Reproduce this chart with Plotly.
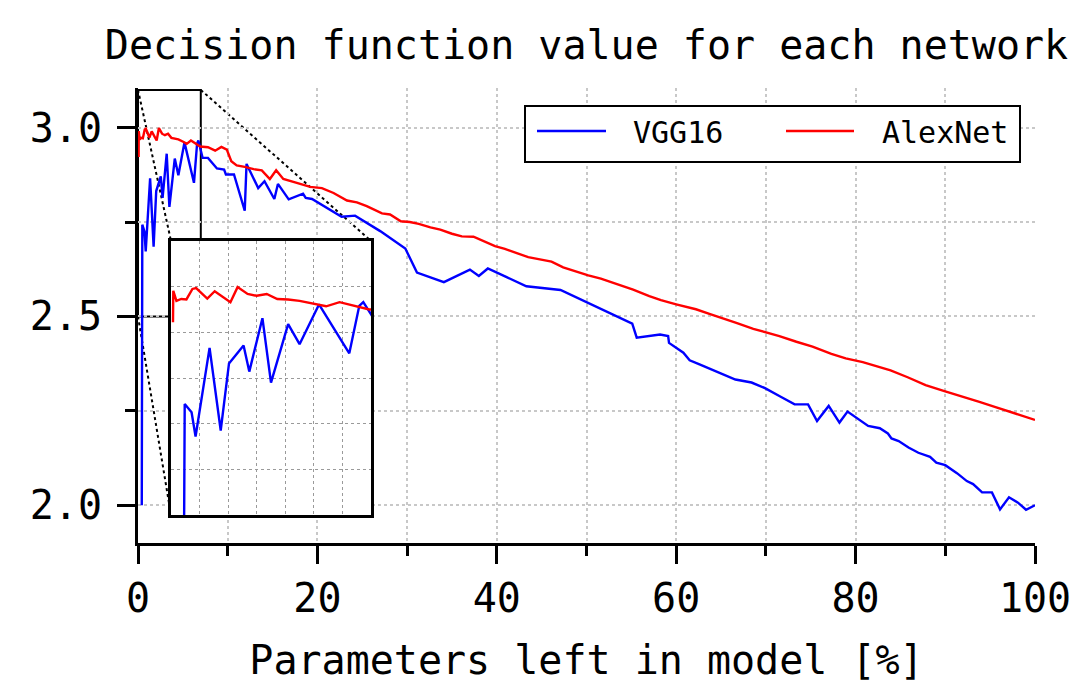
import plotly.graph_objects as go

# ---------------- data ----------------
vgg_x = [0.42, 0.48, 0.72, 0.86, 1.35, 1.74, 2.03, 2.54, 2.74, 3.2, 3.5, 4.1, 4.5, 5.18, 6.24, 6.59, 6.73,
         7.2, 7.8, 8.8, 9.6, 9.8, 10.7, 11.9, 12.1, 13.4, 14.1, 15.2, 15.6, 16.8, 18.4, 18.7, 19.4,
         22.7, 24.2, 27.0, 29.8, 31.1, 34.1, 37.0, 38.0, 39.0, 41.1, 43.3, 47.1, 55.1, 55.6, 58.2,
         59.1, 59.2, 60.8, 61.5, 62.6, 64.5, 66.6, 68.4, 69.9, 71.6, 73.2, 74.7, 75.7, 77.0, 78.2,
         79.1, 80.1, 81.4, 82.7, 83.6, 84.0, 84.8, 85.9, 87.0, 88.3, 89.0, 90.0, 91.3, 92.4, 93.1,
         94.1, 95.2, 96.1, 97.1, 98.1, 99.0, 100.0]
vgg_y = [2.0, 2.743, 2.725, 2.672, 2.866, 2.685, 2.832, 2.871, 2.814, 2.931, 2.790, 2.918, 2.874, 2.961,
         2.854, 2.958, 2.966, 2.92, 2.92, 2.892, 2.889, 2.876, 2.876, 2.78, 2.904, 2.840, 2.858, 2.811,
         2.851, 2.81, 2.825, 2.814, 2.811, 2.764, 2.767, 2.726, 2.68, 2.616, 2.591, 2.624, 2.607, 2.627,
         2.604, 2.580, 2.570, 2.481, 2.444, 2.452, 2.448, 2.430, 2.404, 2.384, 2.373, 2.354, 2.333,
         2.325, 2.31, 2.288, 2.267, 2.267, 2.223, 2.263, 2.219, 2.248, 2.232, 2.21, 2.204, 2.19, 2.177,
         2.17, 2.153, 2.139, 2.128, 2.113, 2.106, 2.085, 2.064, 2.056, 2.034, 2.034, 1.989, 2.021,
         2.007, 1.988, 2.0]

alex_x = [0.07, 0.08, 0.19, 0.36, 0.54, 0.75, 0.88, 1.27, 1.53, 2.08, 2.33, 2.68, 3.0, 3.35, 3.72, 4.1,
          4.5, 5.09, 5.43, 5.9, 6.59, 6.94, 7.8, 8.6, 9.3, 9.9, 10.4, 11.0, 11.9, 12.9, 13.8, 14.7, 15.4,
          16.2, 17.7, 19.2, 20.5, 21.8, 23.3, 24.4, 25.5, 27.2, 28.1, 29.3, 30.3, 31.3, 32.6, 33.7,
          35.0, 36.1, 37.4, 38.7, 39.8, 40.9, 42.2, 43.5, 44.8, 46.1, 47.4, 48.9, 50.2, 51.6, 53.3,
          55.2, 57.0, 58.3, 60.0, 62.2, 63.7, 65.3, 66.7, 68.6, 70.1, 71.5, 73.4, 75.2, 77.3, 78.9,
          80.8, 82.4, 83.9, 85.8, 87.8, 89.9, 91.9, 93.8, 95.6, 97.8, 100.0]
alex_y = [2.922, 2.991, 2.969, 2.973, 2.972, 2.995, 2.997, 2.974, 2.990, 2.966, 2.999, 2.984, 2.980,
          2.984, 2.973, 2.972, 2.969, 2.962, 2.957, 2.966, 2.955, 2.950, 2.948, 2.939, 2.949, 2.942,
          2.911, 2.900, 2.896, 2.89, 2.887, 2.864, 2.887, 2.864, 2.854, 2.843, 2.840, 2.827, 2.807,
          2.802, 2.792, 2.773, 2.770, 2.752, 2.75, 2.745, 2.736, 2.73, 2.719, 2.712, 2.711, 2.697,
          2.686, 2.679, 2.667, 2.657, 2.651, 2.645, 2.630, 2.618, 2.609, 2.6, 2.586, 2.571, 2.554,
          2.543, 2.532, 2.519, 2.507, 2.495, 2.483, 2.467, 2.458, 2.448, 2.433, 2.42, 2.401, 2.389,
          2.379, 2.367, 2.357, 2.339, 2.318, 2.302, 2.288, 2.274, 2.26, 2.243, 2.226]

series_names = ["VGG16", "AlexNet"]
series_colors = ["#0000ff", "#ff0000"]

title_text = "Decision function value for each network"
xlabel = "Parameters left in model [%]"

main_xrange = [0, 100]
main_yrange = [1.9, 3.105]
zoom_xrange = [0, 7]
zoom_yrange = [2.5, 3.1]

# ---------------- layout geometry ----------------
W, H = 1078, 696
L, R, T, B = 138, 43, 88, 153
PW, PH = W - L - R, H - T - B


def px(X):
    return (X - L) / PW


def py(Y):
    return (H - B - Y) / PH


FONT = "DejaVu Sans Mono"
FS = 40
inset_xd = [px(171), px(371)]
inset_yd = [py(515), py(241)]

fig = go.Figure()
for xs, ys, name, col in [(vgg_x, vgg_y, series_names[0], series_colors[0]),
                          (alex_x, alex_y, series_names[1], series_colors[1])]:
    fig.add_trace(go.Scatter(x=xs, y=ys, mode="lines", name=name,
                             line=dict(color=col, width=2.4), xaxis="x", yaxis="y",
                             showlegend=False))
    fig.add_trace(go.Scatter(x=xs, y=ys, mode="lines", name=name,
                             line=dict(color=col, width=2.4), xaxis="x2", yaxis="y2",
                             showlegend=False))

grid_main = dict(showgrid=True, gridcolor="#c8c8c8", griddash="dot", gridwidth=2)
fig.update_layout(
    width=W, height=H,
    margin=dict(l=L, r=R, t=T, b=B),
    paper_bgcolor="white", plot_bgcolor="white",
    font=dict(family=FONT, color="black"),
    title=dict(text=title_text, font=dict(family=FONT, size=FS), xref="paper", x=0.5,
               xanchor="center", yref="container", y=1 - 45 / H, yanchor="middle"),
    xaxis=dict(range=main_xrange, domain=[0, 1], anchor="y", tick0=0, dtick=20, automargin=False,
               ticks="outside", ticklen=18, tickwidth=3, tickcolor="black",
               showline=True, linewidth=3, linecolor="black", zeroline=False,
               tickfont=dict(family=FONT, size=FS),
               title=dict(text=xlabel, font=dict(family=FONT, size=FS), standoff=26),
               minor=dict(dtick=10, ticklen=10, tickwidth=3, tickcolor="black", ticks="outside",
                          showgrid=True, gridcolor="#c8c8c8", griddash="dot", gridwidth=2),
               **grid_main),
    yaxis=dict(range=main_yrange, domain=[0, 1], anchor="x", tick0=2.0, dtick=0.5, automargin=False,
               tickformat=".1f", ticks="outside", ticklen=18, tickwidth=3, tickcolor="black",
               showline=True, linewidth=3, linecolor="black", zeroline=False,
               tickfont=dict(family=FONT, size=FS), ticklabelstandoff=7,
               minor=dict(dtick=0.25, ticklen=10, tickwidth=3, tickcolor="black", ticks="outside",
                          showgrid=True, gridcolor="#c8c8c8", griddash="dot", gridwidth=2),
               **grid_main),
    xaxis2=dict(range=zoom_xrange, domain=inset_xd, anchor="y2", dtick=1, showticklabels=False,
                ticks="", showgrid=True, gridcolor="#9a9a9a", griddash="dot", gridwidth=1,
                showline=True, mirror=True, linecolor="black", linewidth=2.5, zeroline=False),
    yaxis2=dict(range=zoom_yrange, domain=inset_yd, anchor="x2", dtick=0.1, showticklabels=False,
                ticks="", showgrid=True, gridcolor="#9a9a9a", griddash="dot", gridwidth=1,
                showline=True, mirror=True, linecolor="black", linewidth=2.5, zeroline=False),
)

# zoom rectangle and connectors (main data coords)
yspan = main_yrange[1] - main_yrange[0]
xspan = main_xrange[1] - main_xrange[0]
ix0 = main_xrange[0] + inset_xd[0] * xspan
ix1 = main_xrange[0] + inset_xd[1] * xspan
iy0 = main_yrange[0] + inset_yd[0] * yspan
iy1 = main_yrange[0] + inset_yd[1] * yspan
fig.add_shape(type="rect", xref="x", yref="y", x0=zoom_xrange[0], x1=zoom_xrange[1],
              y0=zoom_yrange[0], y1=zoom_yrange[1], line=dict(color="black", width=2), layer="below")
for (ax, ay, bx, by) in [(zoom_xrange[0], zoom_yrange[1], ix0, iy1),
                         (zoom_xrange[1], zoom_yrange[1], ix1, iy1),
                         (zoom_xrange[0], zoom_yrange[0], ix0, iy0)]:
    fig.add_shape(type="line", xref="x", yref="y", x0=ax, y0=ay, x1=bx, y1=by,
                  line=dict(color="black", width=2, dash="dot"), layer="below")

# legend (drawn manually to match the reference layout)
fig.add_shape(type="rect", xref="paper", yref="paper", x0=px(525), x1=px(1020), y0=py(162), y1=py(106),
              line=dict(color="black", width=2), fillcolor="white", layer="above")
leg_items = [(537, 606, 631), (786, 854, 880)]
for (lx0, lx1, tx), name, col in zip(leg_items, series_names, series_colors):
    fig.add_shape(type="line", xref="paper", yref="paper", x0=px(lx0), x1=px(lx1), y0=py(131), y1=py(131),
                  line=dict(color=col, width=2.5), layer="above")
    fig.add_annotation(text=name, xref="paper", yref="paper", x=px(tx), y=py(132), xanchor="left",
                       yanchor="middle", showarrow=False, font=dict(family=FONT, size=30, color="black"))

fig.write_html("out.html", config={"displayModeBar": False},
               post_script="document.body.style.margin='0';document.body.style.overflow='hidden';")
